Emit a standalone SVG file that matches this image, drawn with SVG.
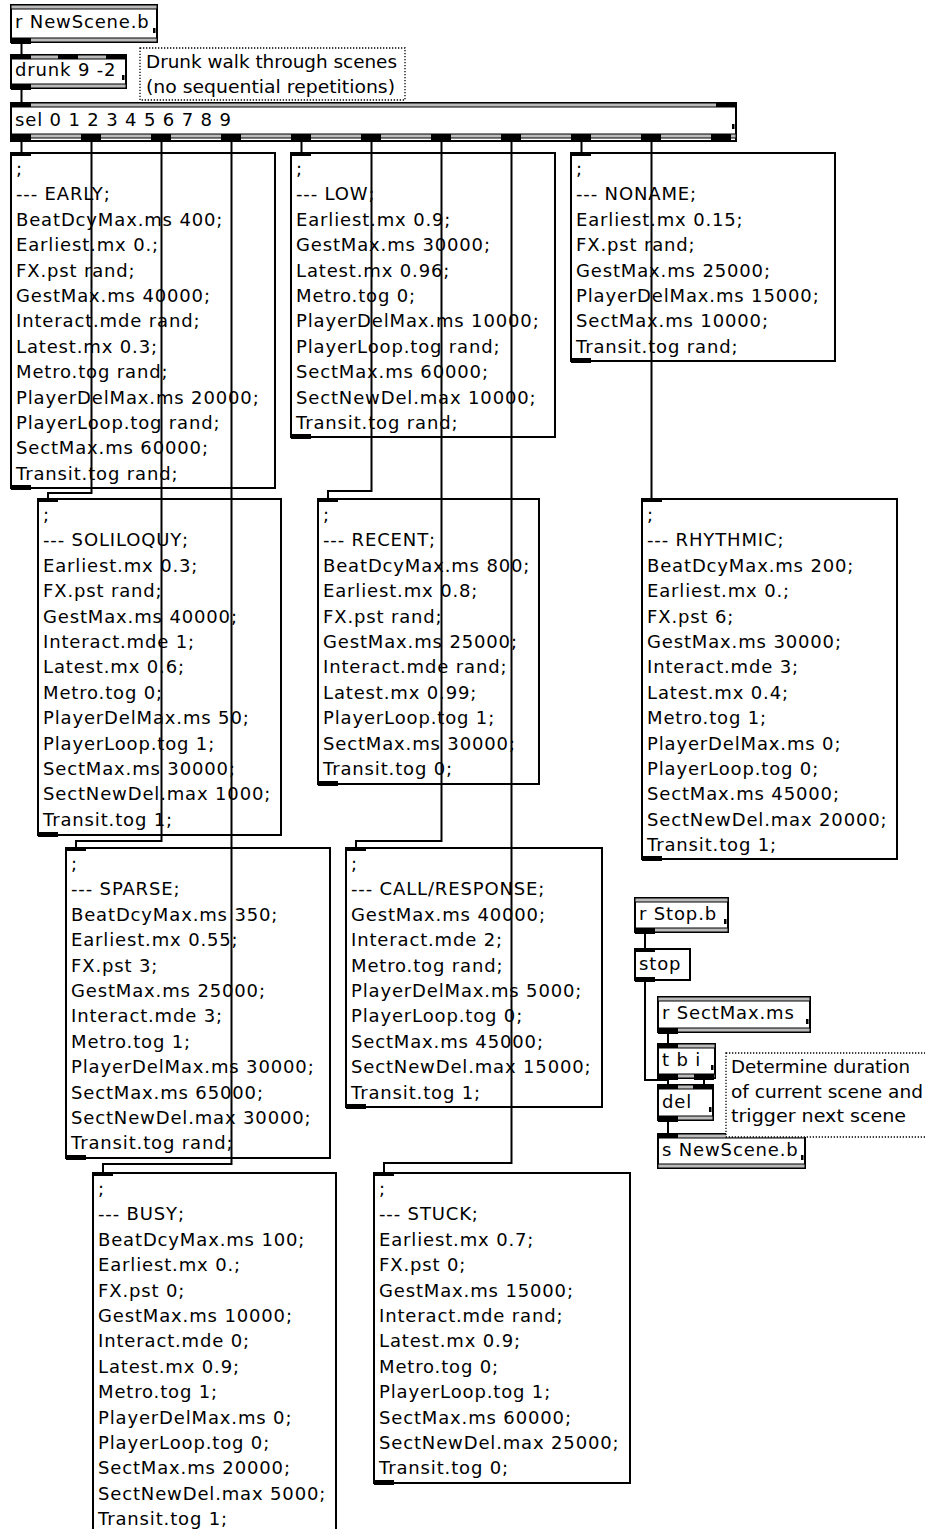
<svg xmlns="http://www.w3.org/2000/svg" width="925" height="1529" viewBox="0 0 925 1529">
<style>
.b{fill:#fff;stroke:#000;stroke-width:2}
.band{fill:#bbb;stroke:#000;stroke-width:1}
.io{fill:#000}
.t{font-family:"DejaVu Sans",Verdana,sans-serif;font-size:18px;letter-spacing:0.85px;fill:#000}
.c{font-family:"DejaVu Sans",Verdana,sans-serif;font-size:18px;fill:#000}
.cord{fill:none;stroke:#000;stroke-width:2}
.cm{fill:#fff;stroke:#000;stroke-width:1.3;stroke-dasharray:1.3 1.7}
</style>
<rect width="925" height="1529" fill="#fff"/>

<!-- object boxes -->
<g id="r-newscene">
<rect class="b" x="11" y="5" width="146" height="37"/>
<rect class="band" x="11" y="5" width="146" height="4"/>
<rect class="band" x="11" y="38" width="146" height="4"/>
<rect class="io" x="11" y="38" width="20" height="6"/>
<rect class="io" x="153" y="28" width="2.5" height="5"/>
<text class="t" x="15" y="28">r NewScene.b</text>
</g>

<g id="drunk">
<rect class="b" x="11" y="55" width="115" height="33"/>
<rect class="band" x="11" y="55" width="115" height="4"/>
<rect class="band" x="11" y="84" width="115" height="4"/>
<rect class="io" x="11" y="54" width="20" height="5"/>
<rect class="io" x="58" y="54" width="20" height="5"/>
<rect class="io" x="106" y="54" width="20" height="5"/>
<rect class="io" x="11" y="84" width="20" height="6"/>
<rect class="io" x="122" y="75" width="2.5" height="5"/>
<text class="t" x="15" y="76">drunk 9 -2</text>
</g>

<g id="comment-drunk">
<rect class="cm" x="140" y="48" width="265" height="52"/>
<text class="c" x="146" y="68" textLength="251" lengthAdjust="spacingAndGlyphs">Drunk walk through scenes</text>
<text class="c" x="146" y="93" textLength="249" lengthAdjust="spacingAndGlyphs">(no sequential repetitions)</text>
</g>

<g id="sel">
<rect class="b" x="11" y="103" width="725" height="38"/>
<rect class="band" x="11" y="103" width="725" height="4"/>
<rect class="band" x="11" y="134" width="725" height="4"/>
<rect class="io" x="11" y="102" width="20" height="5"/>
<rect class="io" x="716" y="102" width="20" height="5"/>
<rect class="io" x="11" y="134" width="20" height="7"/>
<rect class="io" x="81" y="134" width="20" height="7"/>
<rect class="io" x="151" y="134" width="20" height="7"/>
<rect class="io" x="221" y="134" width="20" height="7"/>
<rect class="io" x="291" y="134" width="20" height="7"/>
<rect class="io" x="361" y="134" width="20" height="7"/>
<rect class="io" x="431" y="134" width="20" height="7"/>
<rect class="io" x="501" y="134" width="20" height="7"/>
<rect class="io" x="571" y="134" width="20" height="7"/>
<rect class="io" x="641" y="134" width="20" height="7"/>
<rect class="io" x="711" y="134" width="20" height="7"/>
<rect class="io" x="732" y="124" width="2.5" height="5"/>
<text class="t" x="15" y="126">sel 0 1 2 3 4 5 6 7 8 9</text>
</g>

<!-- message boxes -->
<g id="msg-early">
<rect class="b" x="11" y="153" width="264" height="335"/>
<rect class="io" x="11" y="152" width="20" height="4"/>
<rect class="io" x="11" y="485" width="20" height="5"/>
<text class="t" y="175"><tspan x="16">;</tspan><tspan x="16" dy="25.4">--- EARLY;</tspan><tspan x="16" dy="25.4">BeatDcyMax.ms 400;</tspan><tspan x="16" dy="25.4">Earliest.mx 0.;</tspan><tspan x="16" dy="25.4">FX.pst rand;</tspan><tspan x="16" dy="25.4">GestMax.ms 40000;</tspan><tspan x="16" dy="25.4">Interact.mde rand;</tspan><tspan x="16" dy="25.4">Latest.mx 0.3;</tspan><tspan x="16" dy="25.4">Metro.tog rand;</tspan><tspan x="16" dy="25.4">PlayerDelMax.ms 20000;</tspan><tspan x="16" dy="25.4">PlayerLoop.tog rand;</tspan><tspan x="16" dy="25.4">SectMax.ms 60000;</tspan><tspan x="16" dy="25.4">Transit.tog rand;</tspan></text>
</g>

<g id="msg-low">
<rect class="b" x="291" y="153" width="264" height="284"/>
<rect class="io" x="291" y="152" width="20" height="4"/>
<rect class="io" x="291" y="434" width="20" height="5"/>
<text class="t" y="175"><tspan x="296">;</tspan><tspan x="296" dy="25.4">--- LOW;</tspan><tspan x="296" dy="25.4">Earliest.mx 0.9;</tspan><tspan x="296" dy="25.4">GestMax.ms 30000;</tspan><tspan x="296" dy="25.4">Latest.mx 0.96;</tspan><tspan x="296" dy="25.4">Metro.tog 0;</tspan><tspan x="296" dy="25.4">PlayerDelMax.ms 10000;</tspan><tspan x="296" dy="25.4">PlayerLoop.tog rand;</tspan><tspan x="296" dy="25.4">SectMax.ms 60000;</tspan><tspan x="296" dy="25.4">SectNewDel.max 10000;</tspan><tspan x="296" dy="25.4">Transit.tog rand;</tspan></text>
</g>

<g id="msg-noname">
<rect class="b" x="571" y="153" width="264" height="208"/>
<rect class="io" x="571" y="152" width="20" height="4"/>
<rect class="io" x="571" y="358" width="20" height="5"/>
<text class="t" y="175"><tspan x="576">;</tspan><tspan x="576" dy="25.4">--- NONAME;</tspan><tspan x="576" dy="25.4">Earliest.mx 0.15;</tspan><tspan x="576" dy="25.4">FX.pst rand;</tspan><tspan x="576" dy="25.4">GestMax.ms 25000;</tspan><tspan x="576" dy="25.4">PlayerDelMax.ms 15000;</tspan><tspan x="576" dy="25.4">SectMax.ms 10000;</tspan><tspan x="576" dy="25.4">Transit.tog rand;</tspan></text>
</g>

<g id="msg-soliloquy">
<rect class="b" x="38" y="499" width="243" height="336"/>
<rect class="io" x="38" y="498" width="20" height="4"/>
<rect class="io" x="38" y="832" width="20" height="5"/>
<text class="t" y="521"><tspan x="43">;</tspan><tspan x="43" dy="25.4">--- SOLILOQUY;</tspan><tspan x="43" dy="25.4">Earliest.mx 0.3;</tspan><tspan x="43" dy="25.4">FX.pst rand;</tspan><tspan x="43" dy="25.4">GestMax.ms 40000;</tspan><tspan x="43" dy="25.4">Interact.mde 1;</tspan><tspan x="43" dy="25.4">Latest.mx 0.6;</tspan><tspan x="43" dy="25.4">Metro.tog 0;</tspan><tspan x="43" dy="25.4">PlayerDelMax.ms 50;</tspan><tspan x="43" dy="25.4">PlayerLoop.tog 1;</tspan><tspan x="43" dy="25.4">SectMax.ms 30000;</tspan><tspan x="43" dy="25.4">SectNewDel.max 1000;</tspan><tspan x="43" dy="25.4">Transit.tog 1;</tspan></text>
</g>

<g id="msg-recent">
<rect class="b" x="318" y="499" width="221" height="285"/>
<rect class="io" x="318" y="498" width="20" height="4"/>
<rect class="io" x="318" y="781" width="20" height="5"/>
<text class="t" y="521"><tspan x="323">;</tspan><tspan x="323" dy="25.4">--- RECENT;</tspan><tspan x="323" dy="25.4">BeatDcyMax.ms 800;</tspan><tspan x="323" dy="25.4">Earliest.mx 0.8;</tspan><tspan x="323" dy="25.4">FX.pst rand;</tspan><tspan x="323" dy="25.4">GestMax.ms 25000;</tspan><tspan x="323" dy="25.4">Interact.mde rand;</tspan><tspan x="323" dy="25.4">Latest.mx 0.99;</tspan><tspan x="323" dy="25.4">PlayerLoop.tog 1;</tspan><tspan x="323" dy="25.4">SectMax.ms 30000;</tspan><tspan x="323" dy="25.4">Transit.tog 0;</tspan></text>
</g>

<g id="msg-rhythmic">
<rect class="b" x="642" y="499" width="255" height="360"/>
<rect class="io" x="642" y="498" width="20" height="4"/>
<rect class="io" x="642" y="856" width="20" height="5"/>
<text class="t" y="521"><tspan x="647">;</tspan><tspan x="647" dy="25.4">--- RHYTHMIC;</tspan><tspan x="647" dy="25.4">BeatDcyMax.ms 200;</tspan><tspan x="647" dy="25.4">Earliest.mx 0.;</tspan><tspan x="647" dy="25.4">FX.pst 6;</tspan><tspan x="647" dy="25.4">GestMax.ms 30000;</tspan><tspan x="647" dy="25.4">Interact.mde 3;</tspan><tspan x="647" dy="25.4">Latest.mx 0.4;</tspan><tspan x="647" dy="25.4">Metro.tog 1;</tspan><tspan x="647" dy="25.4">PlayerDelMax.ms 0;</tspan><tspan x="647" dy="25.4">PlayerLoop.tog 0;</tspan><tspan x="647" dy="25.4">SectMax.ms 45000;</tspan><tspan x="647" dy="25.4">SectNewDel.max 20000;</tspan><tspan x="647" dy="25.4">Transit.tog 1;</tspan></text>
</g>

<g id="msg-sparse">
<rect class="b" x="66" y="848" width="264" height="310"/>
<rect class="io" x="66" y="847" width="20" height="4"/>
<rect class="io" x="66" y="1155" width="20" height="5"/>
<text class="t" y="870"><tspan x="71">;</tspan><tspan x="71" dy="25.4">--- SPARSE;</tspan><tspan x="71" dy="25.4">BeatDcyMax.ms 350;</tspan><tspan x="71" dy="25.4">Earliest.mx 0.55;</tspan><tspan x="71" dy="25.4">FX.pst 3;</tspan><tspan x="71" dy="25.4">GestMax.ms 25000;</tspan><tspan x="71" dy="25.4">Interact.mde 3;</tspan><tspan x="71" dy="25.4">Metro.tog 1;</tspan><tspan x="71" dy="25.4">PlayerDelMax.ms 30000;</tspan><tspan x="71" dy="25.4">SectMax.ms 65000;</tspan><tspan x="71" dy="25.4">SectNewDel.max 30000;</tspan><tspan x="71" dy="25.4">Transit.tog rand;</tspan></text>
</g>

<g id="msg-callresponse">
<rect class="b" x="346" y="848" width="256" height="259"/>
<rect class="io" x="346" y="847" width="20" height="4"/>
<rect class="io" x="346" y="1104" width="20" height="5"/>
<text class="t" y="870"><tspan x="351">;</tspan><tspan x="351" dy="25.4">--- CALL/RESPONSE;</tspan><tspan x="351" dy="25.4">GestMax.ms 40000;</tspan><tspan x="351" dy="25.4">Interact.mde 2;</tspan><tspan x="351" dy="25.4">Metro.tog rand;</tspan><tspan x="351" dy="25.4">PlayerDelMax.ms 5000;</tspan><tspan x="351" dy="25.4">PlayerLoop.tog 0;</tspan><tspan x="351" dy="25.4">SectMax.ms 45000;</tspan><tspan x="351" dy="25.4">SectNewDel.max 15000;</tspan><tspan x="351" dy="25.4">Transit.tog 1;</tspan></text>
</g>

<g id="msg-busy">
<rect class="b" x="93" y="1173" width="243" height="370"/>
<rect class="io" x="93" y="1172" width="20" height="4"/>
<text class="t" y="1195"><tspan x="98">;</tspan><tspan x="98" dy="25.4">--- BUSY;</tspan><tspan x="98" dy="25.4">BeatDcyMax.ms 100;</tspan><tspan x="98" dy="25.4">Earliest.mx 0.;</tspan><tspan x="98" dy="25.4">FX.pst 0;</tspan><tspan x="98" dy="25.4">GestMax.ms 10000;</tspan><tspan x="98" dy="25.4">Interact.mde 0;</tspan><tspan x="98" dy="25.4">Latest.mx 0.9;</tspan><tspan x="98" dy="25.4">Metro.tog 1;</tspan><tspan x="98" dy="25.4">PlayerDelMax.ms 0;</tspan><tspan x="98" dy="25.4">PlayerLoop.tog 0;</tspan><tspan x="98" dy="25.4">SectMax.ms 20000;</tspan><tspan x="98" dy="25.4">SectNewDel.max 5000;</tspan><tspan x="98" dy="25.4">Transit.tog 1;</tspan></text>
</g>

<g id="msg-stuck">
<rect class="b" x="374" y="1173" width="256" height="310"/>
<rect class="io" x="374" y="1172" width="20" height="4"/>
<rect class="io" x="374" y="1480" width="20" height="5"/>
<text class="t" y="1195"><tspan x="379">;</tspan><tspan x="379" dy="25.4">--- STUCK;</tspan><tspan x="379" dy="25.4">Earliest.mx 0.7;</tspan><tspan x="379" dy="25.4">FX.pst 0;</tspan><tspan x="379" dy="25.4">GestMax.ms 15000;</tspan><tspan x="379" dy="25.4">Interact.mde rand;</tspan><tspan x="379" dy="25.4">Latest.mx 0.9;</tspan><tspan x="379" dy="25.4">Metro.tog 0;</tspan><tspan x="379" dy="25.4">PlayerLoop.tog 1;</tspan><tspan x="379" dy="25.4">SectMax.ms 60000;</tspan><tspan x="379" dy="25.4">SectNewDel.max 25000;</tspan><tspan x="379" dy="25.4">Transit.tog 0;</tspan></text>
</g>

<!-- right-hand timing section -->
<g id="r-stop">
<rect class="b" x="635" y="898" width="93" height="34"/>
<rect class="band" x="635" y="898" width="93" height="4"/>
<rect class="band" x="635" y="928" width="93" height="4"/>
<rect class="io" x="635" y="928" width="20" height="6"/>
<rect class="io" x="724" y="919" width="2.5" height="5"/>
<text class="t" x="639" y="920">r Stop.b</text>
</g>

<g id="stop">
<rect class="b" x="635" y="949" width="55" height="31"/>
<rect class="io" x="635" y="948" width="20" height="4"/>
<rect class="io" x="635" y="977" width="20" height="5"/>
<text class="t" x="639" y="970">stop</text>
</g>

<g id="r-sectmax">
<rect class="b" x="658" y="997" width="152" height="35"/>
<rect class="band" x="658" y="997" width="152" height="4"/>
<rect class="band" x="658" y="1028" width="152" height="4"/>
<rect class="io" x="658" y="1028" width="20" height="6"/>
<rect class="io" x="806" y="1019" width="2.5" height="5"/>
<text class="t" x="662" y="1019">r SectMax.ms</text>
</g>

<g id="tbi">
<rect class="b" x="658" y="1044" width="57" height="34"/>
<rect class="band" x="658" y="1044" width="57" height="4"/>
<rect class="band" x="658" y="1074" width="57" height="4"/>
<rect class="io" x="658" y="1043" width="20" height="5"/>
<rect class="io" x="658" y="1074" width="20" height="6"/>
<rect class="io" x="694" y="1074" width="20" height="6"/>
<rect class="io" x="711" y="1065" width="2.5" height="5"/>
<text class="t" x="662" y="1066">t b i</text>
</g>

<g id="del">
<rect class="b" x="658" y="1085" width="55" height="35"/>
<rect class="band" x="658" y="1085" width="55" height="4"/>
<rect class="band" x="658" y="1116" width="55" height="4"/>
<rect class="io" x="658" y="1084" width="20" height="5"/>
<rect class="io" x="693" y="1084" width="20" height="5"/>
<rect class="io" x="658" y="1116" width="20" height="6"/>
<rect class="io" x="709" y="1107" width="2.5" height="5"/>
<text class="t" x="662" y="1108">del</text>
</g>

<g id="s-newscene">
<rect class="b" x="658" y="1134" width="147" height="34"/>
<rect class="band" x="658" y="1134" width="147" height="4"/>
<rect class="band" x="658" y="1164" width="147" height="4"/>
<rect class="io" x="658" y="1133" width="20" height="5"/>
<rect class="io" x="801" y="1155" width="2.5" height="5"/>
<text class="t" x="662" y="1156">s NewScene.b</text>
</g>

<g id="comment-del">
<rect class="cm" x="726" y="1053" width="215" height="84"/>
<text class="c" x="731" y="1073" textLength="179" lengthAdjust="spacingAndGlyphs">Determine duration</text>
<text class="c" x="731" y="1098" textLength="192" lengthAdjust="spacingAndGlyphs">of current scene and</text>
<text class="c" x="731" y="1122" textLength="175" lengthAdjust="spacingAndGlyphs">trigger next scene</text>
</g>

<!-- connectors -->
<g id="connectors">
<path class="cord" d="M21.5 44V55"/>
<path class="cord" d="M21.5 90V103"/>
<path class="cord" d="M21.5 141V153"/>
<path class="cord" d="M91.5 141V493H48V499"/>
<path class="cord" d="M161.5 141V841H76V848"/>
<path class="cord" d="M231.5 141V1164H103V1173"/>
<path class="cord" d="M301.5 141V153"/>
<path class="cord" d="M371.5 141V491H328V499"/>
<path class="cord" d="M441.5 141V841H356V848"/>
<path class="cord" d="M511.5 141V1163H384V1173"/>
<path class="cord" d="M581.5 141V153"/>
<path class="cord" d="M651.5 141V499"/>
<path class="cord" d="M645 934V949"/>
<path class="cord" d="M645 981V1080H668V1085"/>
<path class="cord" d="M668 1034V1044"/>
<path class="cord" d="M668 1080V1085"/>
<path class="cord" d="M704 1080V1085"/>
<path class="cord" d="M668 1122V1134"/>
</g>
</svg>
